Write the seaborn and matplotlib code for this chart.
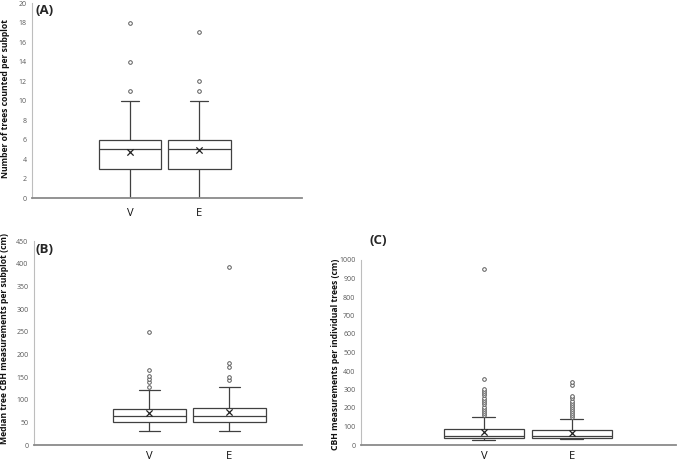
import numpy as np
import pandas as pd
import matplotlib
matplotlib.use("Agg")
import matplotlib.pyplot as plt
import seaborn as sns

# groups on the x axis
groups = ["V", "E"]

# five-number summaries per group: [lower whisker, Q1, median, Q3, upper whisker]
trees_V = [0, 3, 5, 6, 10]
trees_E = [0, 3, 5, 6, 10]
trees_mean = [4.7, 4.9]
trees_out_V = [11, 14, 18]
trees_out_E = [11, 12, 17]

median_V = [31, 51, 64, 79, 121]
median_E = [31, 51, 63, 82, 127]
median_mean = [70, 73]
median_out_V = [129, 138, 146, 153, 166, 250]
median_out_E = [143, 151, 172, 180, 393]

cbh_V = [27, 38, 51, 86, 151]
cbh_E = [30, 36, 48, 79, 139]
cbh_mean = [71, 63]
cbh_out_V = [160, 172, 184, 196, 208, 220, 232, 244, 256, 268, 280, 292, 302, 358, 951]
cbh_out_E = [150, 161, 172, 183, 194, 205, 216, 228, 240, 252, 264, 322, 340]

W, H = 677, 463
BOX_EDGE = "#404040"


def long_df(v, e):
    return pd.DataFrame({"group": ["V"] * len(v) + ["E"] * len(e), "value": v + e})


def draw_panel(rect, box_v, box_e, means, out_v, out_e, ylim, yticks, xlim,
               ylabel, label_xy, tag, tag_xy, xpad):
    ax = fig.add_axes([rect[0] / W, 1 - rect[3] / H,
                       (rect[2] - rect[0]) / W, (rect[3] - rect[1]) / H])

    sns.boxplot(data=long_df(box_v, box_e), x="group", y="value", order=groups,
                whis=(0, 100), width=0.91, color="white", linecolor=BOX_EDGE,
                linewidth=0.9, showfliers=False, capwidths=0.26, ax=ax)
    sns.stripplot(data=long_df(out_v, out_e), x="group", y="value", order=groups,
                  jitter=False, marker="o", size=2.6, color="white",
                  edgecolor="#5a5a5a", linewidth=0.7, ax=ax, zorder=4)
    sns.stripplot(data=pd.DataFrame({"group": groups, "value": means}), x="group",
                  y="value", order=groups, jitter=False, marker="x", size=4.5,
                  color="#222222", linewidth=0.9, ax=ax, zorder=5)

    ax.set_xlim(*xlim)
    ax.set_ylim(*ylim)
    ax.set_yticks(yticks)
    ax.set_xlabel("")
    ax.set_ylabel(ylabel, fontsize=6.2, fontweight="bold", color="#111111")
    ax.yaxis.set_label_coords(*label_xy)
    ax.tick_params(axis="y", labelsize=5, labelcolor="#595959", length=0, pad=4)
    ax.tick_params(axis="x", labelsize=8, labelcolor="#111111", length=0, pad=xpad)
    for side in ["top", "right"]:
        ax.spines[side].set_visible(False)
    ax.spines["left"].set_color("#bdbdbd")
    ax.spines["left"].set_linewidth(0.8)
    ax.spines["bottom"].set_color("#8a8a8a")
    ax.spines["bottom"].set_linewidth(1.3)
    fig.text(tag_xy[0] / W, 1 - tag_xy[1] / H, tag, fontsize=9.5,
             fontweight="bold", va="center", ha="left")
    return ax


sns.set_style("white")
plt.rcParams["font.family"] = ["Open Sans", "DejaVu Sans"]

fig = plt.figure(figsize=(W / 100, H / 100), dpi=100)

draw_panel((32, 3, 302, 198), trees_V, trees_E, trees_mean, trees_out_V, trees_out_E,
           (0, 20), np.arange(0, 21, 2), (-1.42, 2.49),
           "Number of trees counted per subplot", (-0.082, 0.51),
           "(A)", (36, 11), 7)

draw_panel((34, 241, 302, 445), median_V, median_E, median_mean, median_out_V,
           median_out_E, (0, 450), np.arange(0, 451, 50), (-1.44, 1.91),
           "Median tree CBH measurements per subplot (cm)", (-0.095, 0.52),
           "(B)", (36, 250), 4)

draw_panel((361, 260, 676, 445), cbh_V, cbh_E, cbh_mean, cbh_out_V, cbh_out_E,
           (0, 1000), np.arange(0, 1001, 100), (-1.40, 2.19),
           "CBH measurements per individual trees (cm)", (-0.068, 0.49),
           "(C)", (369, 241), 4)

fig.savefig("out.png", dpi=100)
